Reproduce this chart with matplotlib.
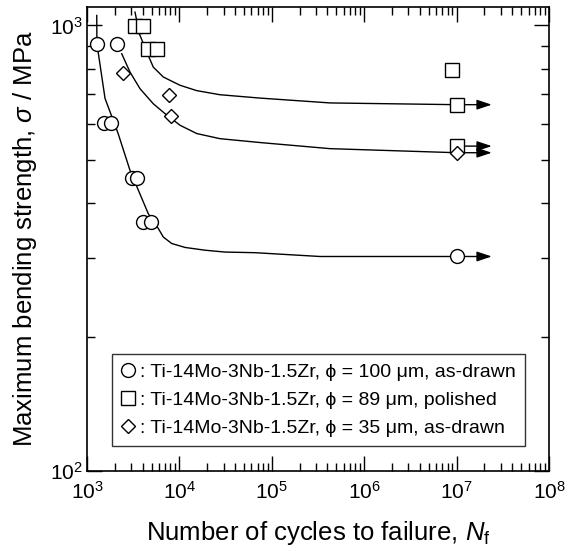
import numpy as np
import matplotlib
matplotlib.use("Agg")
import matplotlib.pyplot as plt
from matplotlib.ticker import LogLocator, NullFormatter

plt.rcParams['font.family'] = ['Liberation Sans', 'DejaVu Sans']
plt.rcParams['mathtext.fontset'] = 'custom'
plt.rcParams['mathtext.rm'] = 'Liberation Sans'
plt.rcParams['mathtext.it'] = 'Liberation Sans:italic'

# measured points (cycles, MPa)
circ_N = [1270, 2090, 1530, 1800, 3050, 3450, 4080, 4940]
circ_S = [910, 910, 605, 605, 455, 455, 363, 363]
sq_N = [3300, 4080, 4600, 5680, 8850000]
sq_S = [995, 995, 887, 887, 796]
dia_N = [2470, 7780, 8050]
dia_S = [783, 697, 627]

# run-outs at 1e7 cycles
run_N = 1e7
run_end = 2.4e7
circ_run = [303]
sq_run = [664, 536]
dia_run = [518]

# fitted curves
curveA_N = [1274, 1280, 1566, 2165, 2917, 3590, 4603, 5916, 6694, 8260, 11500, 18900,
            31150, 65800, 332600, 1e7]
curveA_S = [1053, 910, 686, 573, 473, 427, 378, 350, 335, 324, 317.5, 313,
            310, 309, 303, 303]
curveB_N = [3308, 3681, 4603, 5219, 6694, 10150, 15380, 27480, 74500, 427000, 1e7]
curveB_S = [1071, 958, 856, 806, 766, 734, 714, 699, 687, 670, 664]
curveC_N = [2374, 2917, 3747, 5219, 6982, 10150, 15380, 27480, 74500, 427000, 1e7]
curveC_S = [864, 786, 721, 667, 634, 597, 572, 557, 546, 529, 518]

labels = [": Ti-14Mo-3Nb-1.5Zr, \u03d5 = 100 \u03bcm, as-drawn",
          ": Ti-14Mo-3Nb-1.5Zr, \u03d5 = 89 \u03bcm, polished",
          ": Ti-14Mo-3Nb-1.5Zr, \u03d5 = 35 \u03bcm, as-drawn"]

fig = plt.figure(figsize=(5.71, 5.51), dpi=100)
ax = fig.add_axes([0.1524, 0.1452, 0.8091, 0.8421])
ax.set_xscale('log')
ax.set_yscale('log')
ax.set_xlim(1e3, 1e8)
ax.set_ylim(100, 1100)

for xs, ys in [(curveA_N, curveA_S), (curveB_N, curveB_S), (curveC_N, curveC_S)]:
    ax.plot(xs, ys, color='k', lw=1.0, zorder=2, solid_joinstyle='round')

for ys in [circ_run, sq_run, dia_run]:
    for s in ys:
        ax.annotate('', xy=(run_end, s), xytext=(run_N, s),
                    arrowprops=dict(arrowstyle='-|>,head_length=0.9,head_width=0.3',
                                    color='k', lw=1.0, mutation_scale=10,
                                    shrinkA=0, shrinkB=0), zorder=2)

mk = dict(mfc='white', mec='k', mew=1.0, ls='none', zorder=4)
h1, = ax.plot(circ_N + [run_N], circ_S + circ_run, marker='o', ms=10, **mk)
h2, = ax.plot(sq_N + [run_N, run_N], sq_S + sq_run, marker='s', ms=10.5, **mk)
h3, = ax.plot(dia_N + [run_N], dia_S + dia_run, marker='D', ms=7, **mk)

ax.xaxis.set_major_locator(LogLocator(base=10, numticks=10))
ax.xaxis.set_minor_locator(LogLocator(base=10, subs=np.arange(2, 10), numticks=20))
ax.yaxis.set_minor_formatter(NullFormatter())
ax.tick_params(which='both', direction='in', top=True, right=True, labelsize=15, width=1.0)
ax.tick_params(which='major', length=11)
ax.tick_params(axis='x', which='major', pad=7)
ax.tick_params(axis='y', which='major', pad=3)
ax.tick_params(which='minor', length=5.5)
for sp in ax.spines.values():
    sp.set_linewidth(1.2)

ax.set_xlabel('Number of cycles to failure, $N_{\\mathrm{f}}$', fontsize=18.5, labelpad=12)
ax.set_ylabel('Maximum bending strength, $\\sigma$ / MPa', fontsize=18.5, labelpad=8)

leg = ax.legend([h1, h2, h3], labels, loc='lower left', bbox_to_anchor=(0.054, 0.054),
                fontsize=14, frameon=True, fancybox=False, edgecolor='k',
                handlelength=0.8, handletextpad=0.2, labelspacing=0.55,
                borderpad=0.45, borderaxespad=0)
leg.get_frame().set_linewidth(1.0)

fig.savefig('out.png', dpi=100)
